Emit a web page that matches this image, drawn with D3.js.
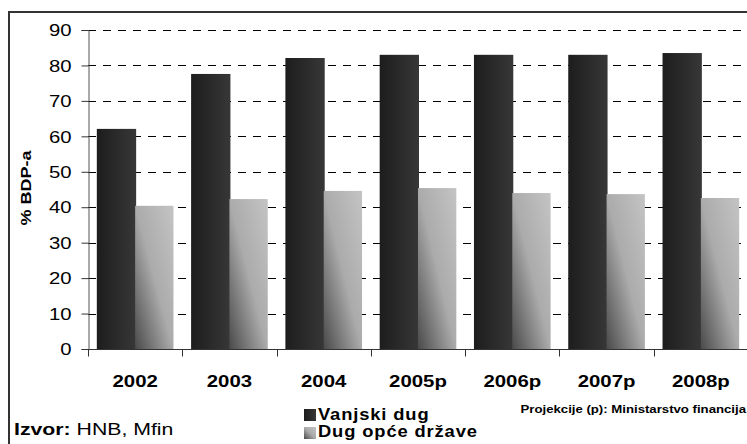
<!DOCTYPE html>
<html>
<head>
<meta charset="utf-8">
<script src="https://cdn.jsdelivr.net/npm/d3@7"></script>
<style>
    html, body { margin: 0; padding: 0; background: #fff; }
    svg { display: block; font-family: 'Liberation Sans', Arial, sans-serif; }
</style>
</head>
<body>
<svg id="chart"></svg>
<script>
'use strict';

const years = ['2002', '2003', '2004', '2005p', '2006p', '2007p', '2008p'];
const vanjskiDug = [62.1, 77.6, 82.1, 83.0, 83.0, 83.0, 83.5];
const dugOpceDrzave = [40.4, 42.3, 44.6, 45.4, 44.0, 43.7, 42.6];
const yTicks = [0, 10, 20, 30, 40, 50, 60, 70, 80, 90];
const seriesNames = ['Vanjski dug', 'Dug opće države'];

(function () {
    const d3 = window.d3;
    const width = 747;
    const height = 444;
    const svg = d3.select('#chart')
        .attr('width', width)
        .attr('height', height);

    const plot = { left: 88, right: 748, top: 30, bottom: 349 };

    const x = d3.scaleBand()
        .domain(years)
        .range([plot.left, plot.right]);

    const x1 = d3.scaleBand()
        .domain([0, 1])
        .range([0, x.bandwidth()])
        .paddingOuter(0.23)
        .paddingInner(0);

    const y = d3.scaleLinear()
        .domain([0, 90])
        .range([plot.bottom, plot.top]);

    // the source picture is a bit wider than tall, texts are stretched
    function stretched(px, py, sx, extra) {
        return 'translate(' + px + ',' + py + ')' + (extra || '') + ' scale(' + sx + ',1)';
    }

    const defs = svg.append('defs');
    const darkGrad = defs.append('linearGradient')
        .attr('id', 'dark-grad')
        .attr('x1', 0).attr('y1', 0)
        .attr('x2', 1).attr('y2', 0);
    darkGrad.append('stop').attr('offset', 0).attr('stop-color', '#1d1d1d');
    darkGrad.append('stop').attr('offset', 1).attr('stop-color', '#373737');

    // light bars: "diagonal up" shade, bottom-left corner darkest
    const lightGrad = defs.append('linearGradient')
        .attr('id', 'light-grad')
        .attr('x1', 0).attr('y1', 1)
        .attr('x2', 1).attr('y2', 0);
    lightGrad.append('stop').attr('offset', 0).attr('stop-color', '#4a4a4a');
    lightGrad.append('stop').attr('offset', 0.5).attr('stop-color', '#ababab');
    lightGrad.append('stop').attr('offset', 1).attr('stop-color', '#c4c4c4');

    // outer frame
    svg.append('path')
        .attr('d', 'M9,' + (height + 2) + 'V12H' + (width + 2))
        .attr('fill', 'none')
        .attr('stroke', '#333')
        .attr('stroke-width', 2);

    // dashed grid
    svg.append('g')
        .selectAll('line')
        .data(yTicks.filter(d => d > 0))
        .enter().append('line')
        .attr('x1', plot.left)
        .attr('x2', plot.right)
        .attr('y1', d => Math.round(y(d)) + 0.5)
        .attr('y2', d => Math.round(y(d)) + 0.5)
        .attr('stroke', '#000')
        .attr('stroke-dasharray', '8,7');

    // bars
    const groups = svg.append('g')
        .selectAll('g')
        .data(years)
        .enter().append('g')
        .attr('transform', d => 'translate(' + x(d) + ',0)');

    groups.append('rect')
        .attr('x', x1(0))
        .attr('y', (d, i) => y(vanjskiDug[i]))
        .attr('width', x1.bandwidth() + 1)
        .attr('height', (d, i) => y(0) - y(vanjskiDug[i]))
        .attr('fill', 'url(#dark-grad)');

    groups.append('rect')
        .attr('x', x1(1))
        .attr('y', (d, i) => y(dugOpceDrzave[i]))
        .attr('width', x1.bandwidth())
        .attr('height', (d, i) => y(0) - y(dugOpceDrzave[i]))
        .attr('fill', 'url(#light-grad)');

    // y axis
    const yAxis = svg.append('g')
        .attr('transform', 'translate(' + (plot.left + 0.5) + ',0)')
        .call(d3.axisLeft(y).tickValues(yTicks).tickSize(7));
    yAxis.select('.domain').attr('stroke', '#555');
    yAxis.selectAll('.tick line').attr('stroke', '#333');
    yAxis.selectAll('text')
        .attr('x', 0)
        .attr('dy', '0.36em')
        .attr('transform', stretched(-17, 0, 1.27))
        .attr('font-size', '16px')
        .attr('font-family', 'Liberation Sans, Arial, sans-serif')
        .attr('fill', '#000');

    // x axis
    const xAxis = svg.append('g')
        .attr('transform', 'translate(0,' + (plot.bottom + 0.5) + ')');
    xAxis.append('line')
        .attr('x1', plot.left)
        .attr('x2', plot.right)
        .attr('stroke', '#333');
    xAxis.selectAll('.xtick')
        .data(years.concat(['end']))
        .enter().append('line')
        .attr('x1', (d, i) => Math.round(plot.left + i * x.step()) + 0.5)
        .attr('x2', (d, i) => Math.round(plot.left + i * x.step()) + 0.5)
        .attr('y1', 0)
        .attr('y2', 7)
        .attr('stroke', '#333');
    xAxis.selectAll('text')
        .data(years)
        .enter().append('text')
        .attr('transform', d => stretched(x(d) + x.bandwidth() / 2, 37, 1.2))
        .attr('text-anchor', 'middle')
        .attr('font-size', '17px')
        .attr('font-weight', 'bold')
        .text(d => d);

    // y title
    svg.append('text')
        .attr('transform', stretched(31, 188, 1.2, ' rotate(-90)'))
        .attr('text-anchor', 'middle')
        .attr('font-size', '15px')
        .attr('font-weight', 'bold')
        .text('% BDP-a');

    // legend
    const legend = svg.append('g').attr('transform', 'translate(304,0)');
    legend.selectAll('rect')
        .data(seriesNames)
        .enter().append('rect')
        .attr('x', 0)
        .attr('y', (d, i) => 409 + i * 18)
        .attr('width', 12)
        .attr('height', 12)
        .attr('fill', (d, i) => i === 0 ? 'url(#dark-grad)' : 'url(#light-grad)');
    legend.selectAll('text')
        .data(seriesNames)
        .enter().append('text')
        .attr('transform', (d, i) => stretched(14, 420 + i * 17, 1.08))
        .attr('font-size', '17px')
        .attr('font-weight', 'bold')
        .attr('letter-spacing', '0.8px')
        .text(d => d);

    svg.append('text')
        .attr('transform', stretched(746, 413, 1.2))
        .attr('text-anchor', 'end')
        .attr('font-size', '11px')
        .attr('font-weight', 'bold')
        .text('Projekcije (p): Ministarstvo financija');

    const source = svg.append('text')
        .attr('transform', stretched(14, 435, 1.25))
        .attr('font-size', '17px');
    source.append('tspan').attr('font-weight', 'bold').text('Izvor:');
    source.append('tspan').text(' HNB, Mfin');
}());
</script>
</body>
</html>
